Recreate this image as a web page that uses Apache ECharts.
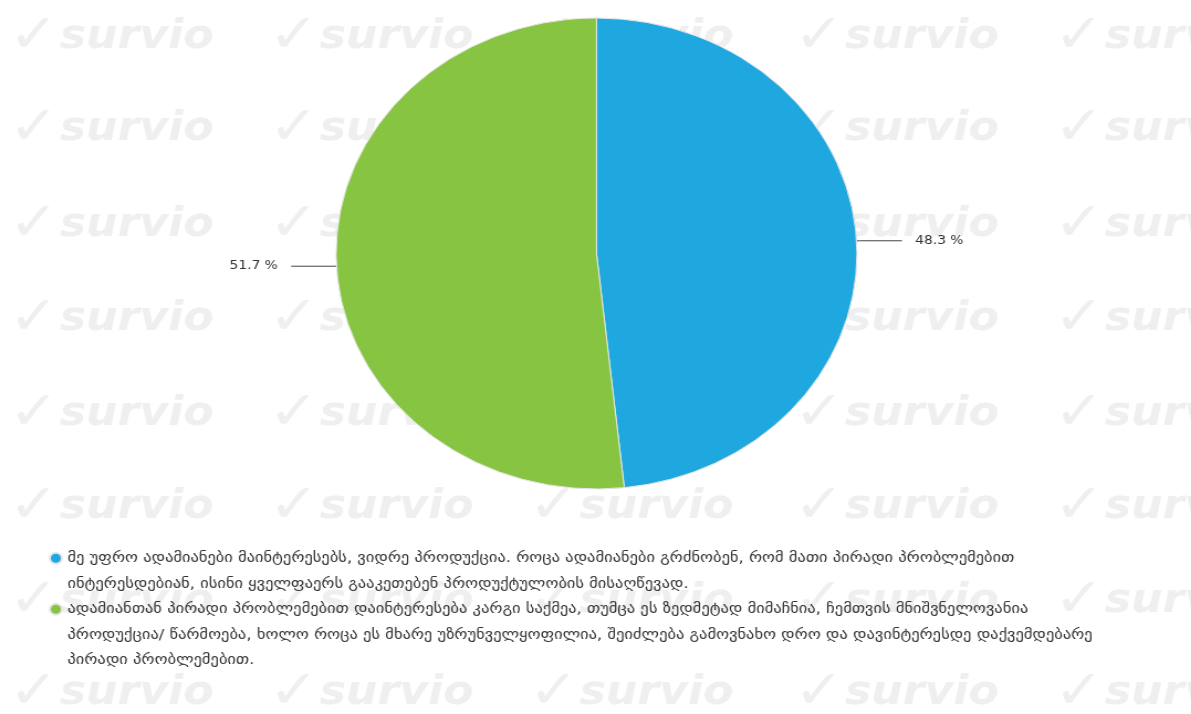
<!DOCTYPE html>
<html>
<head>
<meta charset="utf-8">
<script src="https://cdn.jsdelivr.net/npm/echarts@6/dist/echarts.min.js"></script>
<style>
  html, body { margin: 0; padding: 0; background: #ffffff; overflow: hidden; }
  #wrap { width: 1191px; height: 714px; overflow: hidden; }
  #chart { width: 1077px; height: 714px; transform: scaleX(1.1059); transform-origin: 0 0; }
</style>
</head>
<body>
<div id="wrap"><div id="chart"></div></div>
<script>
// ---- data ----
const categories = [
  'მე უფრო ადამიანები მაინტერესებს, ვიდრე პროდუქცია. როცა ადამიანები გრძნობენ, რომ მათი პირადი პრობლემებით ინტერესდებიან, ისინი ყველფაერს გააკეთებენ პროდუქტულობის მისაღწევად.',
  'ადამიანთან პირადი პრობლემებით დაინტერესება კარგი საქმეა, თუმცა ეს ზედმეტად მიმაჩნია, ჩემთვის მნიშვნელოვანია პროდუქცია/ წარმოება, ხოლო როცა ეს მხარე უზრუნველყოფილია, შეიძლება გამოვნახო დრო და დავინტერესდე დაქვემდებარე პირადი პრობლემებით.'
];
const legendLines = [
  ['მე უფრო ადამიანები მაინტერესებს, ვიდრე პროდუქცია. როცა ადამიანები გრძნობენ, რომ მათი პირადი პრობლემებით',
   'ინტერესდებიან, ისინი ყველფაერს გააკეთებენ პროდუქტულობის მისაღწევად.'],
  ['ადამიანთან პირადი პრობლემებით დაინტერესება კარგი საქმეა, თუმცა ეს ზედმეტად მიმაჩნია, ჩემთვის მნიშვნელოვანია',
   'პროდუქცია/ წარმოება, ხოლო როცა ეს მხარე უზრუნველყოფილია, შეიძლება გამოვნახო დრო და დავინტერესდე დაქვემდებარე',
   'პირადი პრობლემებით.']
];
const values = [48.3, 51.7];
const colors = ['#1fa8e0', '#86c442'];

// ---- watermark graphics ----
const wm = [];
const wmRows = [38, 130, 226, 320, 415, 508, 602, 694];
const wmCols = [8, 243, 478, 718, 953];
wmRows.forEach(function (y) {
  wmCols.forEach(function (x) {
    wm.push({
      type: 'text', x: x, y: y, z: 0, silent: true,
      style: {
        text: '✓', fill: '#efefef',
        font: 'bold 54px "DejaVu Sans"',
        verticalAlign: 'middle', align: 'left'
      }
    });
    wm.push({
      type: 'text', x: x + 46, y: y, z: 0, silent: true,
      style: {
        text: 'survio', fill: '#efefef',
        font: 'italic bold 40px "DejaVu Sans"',
        verticalAlign: 'middle', align: 'left'
      }
    });
  });
});

const lineHeight = 25.5;
const chart = echarts.init(document.getElementById('chart'), null, { renderer: 'canvas' });
chart.setOption({
  animation: false,
  backgroundColor: '#ffffff',
  color: colors,
  graphic: { elements: wm },
  legend: {
    orient: 'vertical',
    left: 39,
    top: 515,
    itemWidth: 11,
    itemHeight: 12,
    itemGap: -2 * lineHeight,
    icon: 'circle',
    selectedMode: false,
    z: 5,
    textStyle: { fontFamily: 'DejaVu Sans', fontSize: 14.9, color: '#333', lineHeight: lineHeight },
    formatter: function (name) {
      const i = categories.indexOf(name);
      const lines = legendLines[i];
      return '\n'.repeat(lines.length - 1) + lines.join('\n');
    },
    data: categories
  },
  series: [{
    type: 'pie',
    z: 5,
    center: [539.4, 253.5],
    radius: 235.5,
    startAngle: 90,
    clockwise: true,
    avoidLabelOverlap: false,
    data: categories.map(function (c, i) { return { name: c, value: values[i] }; }),
    itemStyle: { borderColor: '#e6e6e6', borderWidth: 1 },
    label: {
      show: true,
      formatter: '{c} %',
      fontFamily: 'DejaVu Sans',
      fontSize: 12.5,
      color: '#333',
      distanceToLabelLine: 12
    },
    labelLine: {
      show: true,
      length: 3,
      length2: 38,
      smooth: false,
      lineStyle: { color: '#444', width: 1 }
    },
    emphasis: { disabled: true }
  }]
});
</script>
</body>
</html>
